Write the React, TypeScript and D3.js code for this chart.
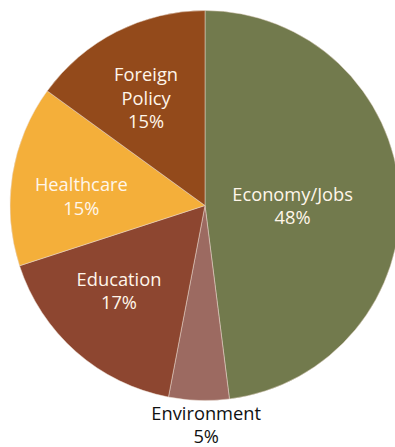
import React from "react";
import * as d3 from "d3";

const categories = ["Economy/Jobs", "Environment", "Education", "Healthcare", "Foreign Policy"];
const values = [48, 5, 17, 15, 15];
const colors = ["#727A4D", "#9C6A61", "#8D4630", "#F4AF3A", "#934A1B"];
const labelLines = [["Economy/Jobs"], ["Environment"], ["Education"], ["Healthcare"], ["Foreign", "Policy"]];
const labelColors = ["#FFF6EA", "#111111", "#FFF6EA", "#FFF6EA", "#FFF6EA"];
// label placement: [angle in degrees clockwise from top, radius from center] of the mean baseline
const labelPolar: [number, number][] = [
  [94.6, 87.9],
  [179.7, 226],
  [223.1, 125.9],
  [271.2, 123.7],
  [329.7, 116.8],
];

export default function App() {
  const W = 395, H = 447;
  const cx = 205, cy = 205.5, R = 195;
  const pie = d3.pie<number>().sort(null).value((d) => d)(values);
  const arc = d3.arc<d3.PieArcDatum<number>>().innerRadius(0).outerRadius(R);
  const lh = 23.3;
  return (
    <svg width={W} height={H} style={{ position: "absolute", left: 0, top: 0 }}>
      <g transform={`translate(${cx},${cy})`}>
        {pie.map((p, i) => (
          <path key={i} d={arc(p) || ""} fill={colors[i]} stroke="#E8D9CC" strokeWidth={0.5} />
        ))}
        {pie.map((p, i) => {
          const [deg, r] = labelPolar[i];
          const a = (deg * Math.PI) / 180;
          const x = r * Math.sin(a);
          const y = -r * Math.cos(a);
          const lines = [...labelLines[i], `${values[i]}%`];
          const y0 = y - ((lines.length - 1) * lh) / 2;
          return (
            <text
              key={"t" + i}
              textAnchor="middle"
              fill={labelColors[i]}
              fontFamily="'Open Sans', sans-serif"
              fontSize={18.3}
            >
              {lines.map((l, j) => (
                <tspan key={j} x={x} y={y0 + j * lh}>
                  {l}
                </tspan>
              ))}
            </text>
          );
        })}
      </g>
    </svg>
  );
}
